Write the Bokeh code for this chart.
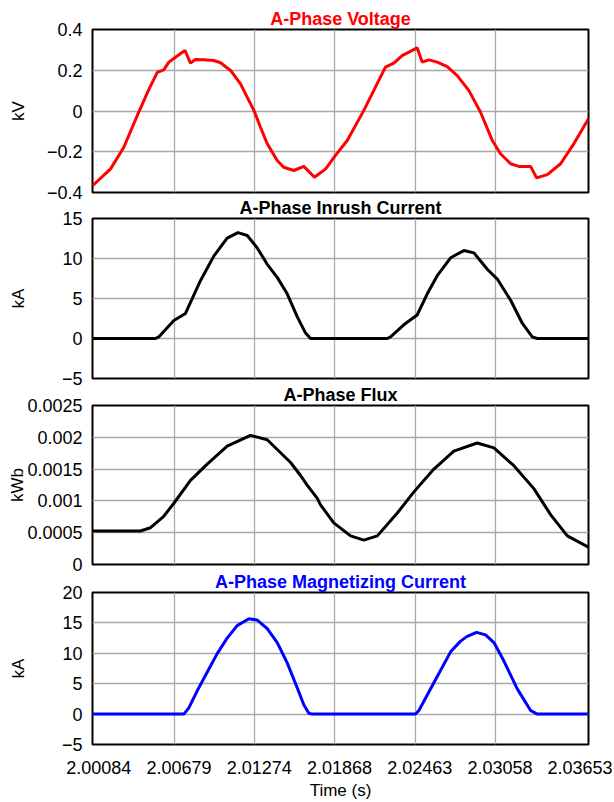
from bokeh.plotting import figure
from bokeh.layouts import column
from bokeh.models import Range1d, FixedTicker
from bokeh.embed import file_html
from bokeh.resources import INLINE

# ---------------- data ----------------
x_start, x_end = 2.00071, 2.03747
x_ticks = [2.00084, 2.00679, 2.01274, 2.01868, 2.02463, 2.03058, 2.03653]
x_tick_labels = ["2.00084", "2.00679", "2.01274", "2.01868", "2.02463", "2.03058", "2.03653"]

volt_t = [2.00071, 2.00205, 2.00303, 2.00403, 2.00488, 2.00551, 2.00599, 2.00637, 2.00686,
          2.00748, 2.00757, 2.00797, 2.00834, 2.00896, 2.00970, 2.01020, 2.01094, 2.01168,
          2.01193, 2.01267, 2.01316, 2.01366, 2.01440, 2.01488, 2.01563, 2.01637, 2.01716,
          2.01799, 2.01872, 2.01959, 2.02082, 2.02168, 2.02242, 2.02304, 2.02366, 2.02416,
          2.02477, 2.02514, 2.02564, 2.02626, 2.02700, 2.02774, 2.02861, 2.02947, 2.03034,
          2.03095, 2.03170, 2.03231, 2.03318, 2.03362, 2.03442, 2.03540, 2.03638, 2.03747]
volt_kv = [-0.367, -0.284, -0.178, -0.022, 0.105, 0.190, 0.202, 0.240, 0.264,
           0.293, 0.297, 0.235, 0.253, 0.251, 0.248, 0.237, 0.199, 0.133,
           0.100, 0.003, -0.080, -0.161, -0.243, -0.276, -0.292, -0.272, -0.325,
           -0.284, -0.218, -0.145, 0.003, 0.117, 0.215, 0.235, 0.272, 0.289,
           0.310, 0.240, 0.251, 0.240, 0.218, 0.174, 0.100, -0.006, -0.145,
           -0.210, -0.259, -0.272, -0.272, -0.328, -0.312, -0.259, -0.161, -0.038]

inrush_t = [2.00071, 2.00538, 2.00562, 2.00674, 2.00760, 2.00871, 2.00970, 2.01069, 2.01149,
            2.01218, 2.01292, 2.01366, 2.01440, 2.01514, 2.01588, 2.01650, 2.01687, 2.02256,
            2.02280, 2.02378, 2.02477, 2.02552, 2.02626, 2.02725, 2.02823, 2.02898, 2.02997,
            2.03071, 2.03170, 2.03256, 2.03330, 2.03367, 2.03747]
inrush_ka = [0.0, 0.0, 0.2, 2.24, 3.13, 7.23, 10.3, 12.55, 13.24,
             12.87, 11.32, 9.27, 7.64, 5.59, 2.73, 0.68, 0.0, 0.0,
             0.2, 1.71, 2.94, 5.59, 7.85, 10.09, 10.99, 10.7, 8.66,
             7.43, 4.78, 1.91, 0.2, 0.0, 0.0]

flux_t = [2.00071, 2.00426, 2.00501, 2.00599, 2.00674, 2.00797, 2.00921, 2.01069, 2.01242,
          2.01366, 2.01539, 2.01613, 2.01663, 2.01737, 2.01761, 2.01859, 2.01984, 2.02082,
          2.02182, 2.02330, 2.02453, 2.02601, 2.02749, 2.02922, 2.03046, 2.03194, 2.03342,
          2.03466, 2.03590, 2.03747]
flux_kwb = [0.000527, 0.000527, 0.000578, 0.000758, 0.000963, 0.001322, 0.001578, 0.00186, 0.00203,
            0.001962, 0.001604, 0.001399, 0.001245, 0.001039, 0.000938, 0.000655, 0.00045, 0.000384,
            0.00045, 0.000809, 0.001142, 0.0015, 0.001783, 0.001911, 0.001834, 0.001553, 0.001193,
            0.000784, 0.00045, 0.000271]

mag_t = [2.00071, 2.00748, 2.00785, 2.00847, 2.00921, 2.00995, 2.01069, 2.01143, 2.01230,
         2.01292, 2.01366, 2.01440, 2.01514, 2.01588, 2.01637, 2.01674, 2.01700, 2.02465,
         2.02490, 2.02601, 2.02725, 2.02799, 2.02848, 2.02917, 2.02984, 2.03046, 2.03120,
         2.03219, 2.03318, 2.03367, 2.03747]
mag_ka = [0.0, 0.0, 1.03, 3.83, 6.89, 9.95, 12.5, 14.55, 15.67,
          15.47, 14.04, 11.75, 8.42, 4.33, 1.53, 0.15, 0.0, 0.0,
          0.6, 5.15, 10.24, 12.0, 12.78, 13.45, 13.03, 11.77, 8.72,
          4.15, 0.6, 0.0, 0.0]

volt_ticks = [-0.4, -0.2, 0, 0.2, 0.4]
volt_labels = ["\u22120.4", "\u22120.2", "0", "0.2", "0.4"]
inrush_ticks = [-5, 0, 5, 10, 15]
inrush_labels = ["\u22125", "0", "5", "10", "15"]
flux_ticks = [0, 0.0005, 0.001, 0.0015, 0.002, 0.0025]
flux_labels = ["0", "0.0005", "0.001", "0.0015", "0.002", "0.0025"]
mag_ticks = [-5, 0, 5, 10, 15, 20]
mag_labels = ["\u22125", "0", "5", "10", "15", "20"]

FONT = "Liberation Sans"
W = 612


def make(title, tcolor, t, y, lcolor, yr, yticks, ylabels, ylab, label_standoff,
         top=21, frame_h=163, bottom=12, xlabels=False):
    p = figure(width=W, height=top + frame_h + bottom, output_backend="svg", toolbar_location=None,
               x_range=Range1d(x_start, x_end), y_range=Range1d(*yr),
               min_border_left=92, min_border_right=24, min_border_top=top,
               min_border_bottom=bottom, title=title)
    p.title.align = "center"
    p.title.text_color = tcolor
    p.title.text_font = FONT
    p.title.text_font_size = "18px"
    p.title.text_font_style = "bold"
    p.title.standoff = 2
    p.outline_line_color = "black"
    p.outline_line_width = 2
    p.outline_line_alpha = 1
    p.background_fill_color = "white"
    p.border_fill_color = None

    p.line(t, y, line_color=lcolor, line_width=3)

    # vertical grid only at the interior time ticks, as in the reference
    p.xgrid.ticker = FixedTicker(ticks=x_ticks[1:-1])
    p.ygrid.ticker = FixedTicker(ticks=yticks)
    for g in (p.xgrid, p.ygrid):
        g.grid_line_color = "#a8a8a8"
        g.grid_line_width = 1.3
        g.grid_line_alpha = 1

    ya = p.yaxis[0]
    ya.ticker = FixedTicker(ticks=yticks)
    ya.major_label_overrides = {v: s for v, s in zip(yticks, ylabels)}
    ya.axis_label = ylab
    ya.axis_label_text_font = FONT
    ya.axis_label_text_font_size = "17px"
    ya.axis_label_text_font_style = "normal"
    ya.axis_label_text_color = "black"
    ya.axis_label_standoff = label_standoff
    ya.major_label_text_font = FONT
    ya.major_label_text_font_size = "18px"
    ya.major_label_text_color = "black"
    ya.major_label_standoff = 4
    ya.major_tick_line_color = None
    ya.minor_tick_line_color = None
    ya.axis_line_color = None

    xa = p.xaxis[0]
    xa.ticker = FixedTicker(ticks=x_ticks)
    if xlabels:
        shown = ["\u2002" + s for s in x_tick_labels]
        xa.major_label_overrides = {v: s for v, s in zip(x_ticks, shown)}
        xa.axis_label = "Time (s)"
        xa.axis_label_text_font = FONT
        xa.axis_label_text_font_size = "17px"
        xa.axis_label_text_font_style = "normal"
        xa.axis_label_text_color = "black"
        xa.axis_label_standoff = 0
        xa.major_label_text_font = FONT
        xa.major_label_text_font_size = "18px"
        xa.major_label_text_color = "black"
        xa.major_label_standoff = 7
        xa.major_tick_line_color = None
        xa.minor_tick_line_color = None
        xa.axis_line_color = None
    else:
        xa.visible = False
    return p


p1 = make("A-Phase Voltage", "#ff0000", volt_t, volt_kv, "#ff0000", (-0.4, 0.4),
          volt_ticks, volt_labels, "kV", 16, top=29)
p2 = make("A-Phase Inrush Current", "black", inrush_t, inrush_ka, "black", (-5, 15),
          inrush_ticks, inrush_labels, "kA", 31)
p3 = make("A-Phase Flux", "black", flux_t, flux_kwb, "black", (0, 0.0025),
          flux_ticks, flux_labels, "kWb", -3, frame_h=162)
p4 = make("A-Phase Magnetizing Current", "#0000ff", mag_t, mag_ka, "#0000ff", (-5, 20),
          mag_ticks, mag_labels, "kA", 31, frame_h=164, bottom=49, xlabels=True)

p2.margin = (-10, 0, 0, 0)
p3.margin = (-9, 0, 0, 0)
p4.margin = (-8, 0, 0, 0)

layout = column(p1, p2, p3, p4, spacing=0)
open("out.html", "w").write(file_html(layout, INLINE))
